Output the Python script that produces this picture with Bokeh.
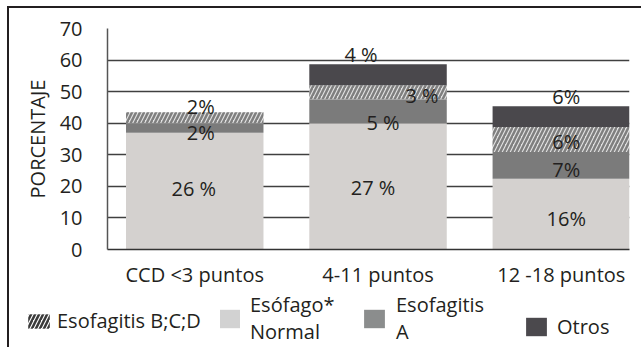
from bokeh.plotting import figure
from bokeh.layouts import column
from bokeh.models import Range1d, FixedTicker, Legend, LegendItem
from bokeh.core.properties import value
from bokeh.embed import file_html
from bokeh.resources import INLINE

# ---- data ----
categories = ["CCD <3 puntos", "4-11 puntos", "12 -18 puntos"]
normal = [37.0, 40.0, 22.4]
esof_a = [3.0, 7.6, 8.5]
esof_bcd = [3.5, 4.4, 7.9]
otros = [0.0, 6.7, 6.6]

lbl_normal = ["26 %", "27 %", "16%"]
lbl_a = ["2%", "5 %", "7%"]
lbl_bcd = ["2%", "3 %", "6%"]
lbl_otros = ["", "4 %", "6%"]

y_ticks = [0, 10, 20, 30, 40, 50, 60, 70]

legend_labels = ["Esofagitis B;C;D", "Esófago*\nNormal", "Esofagitis\nA", "Otros"]

FONT = "Open Sans"
TXT = "#231f20"

xs = [1, 2, 3]

# main chart: content starts at page (9, 8) because of the outer frame
p = figure(width=632, height=282, x_range=Range1d(0.524, 3.372), y_range=Range1d(0, 70),
           output_backend="svg", toolbar_location=None,
           min_border_left=98, min_border_right=12, min_border_top=20, min_border_bottom=40)
p.frame_align = False
p.outline_line_color = None
p.background_fill_color = "white"
p.border_fill_color = "white"

p.xgrid.visible = False
p.ygrid.grid_line_color = "#404040"
p.ygrid.grid_line_width = 1.5

# y axis
p.yaxis.ticker = FixedTicker(ticks=y_ticks)
p.yaxis.axis_line_color = "#555555"
p.yaxis.axis_line_width = 1.5
p.yaxis.major_tick_line_color = None
p.yaxis.minor_tick_line_color = None
p.yaxis.major_label_standoff = 19
p.yaxis.major_label_text_font = FONT
p.yaxis.major_label_text_font_size = "20px"
p.yaxis.major_label_text_color = TXT
p.yaxis.axis_label = "PORCENTAJE"
p.yaxis.axis_label_text_font = FONT
p.yaxis.axis_label_text_font_size = "20px"
p.yaxis.axis_label_text_font_style = "normal"
p.yaxis.axis_label_text_color = TXT
p.yaxis.axis_label_standoff = 6

# x axis
p.xaxis.ticker = FixedTicker(ticks=xs)
p.xaxis.major_label_overrides = {x: c for x, c in zip(xs, categories)}
p.xaxis.axis_line_color = "#333333"
p.xaxis.axis_line_width = 1.5
p.xaxis.major_tick_line_color = None
p.xaxis.minor_tick_line_color = None
p.xaxis.major_label_standoff = 5
p.xaxis.major_label_text_font = FONT
p.xaxis.major_label_text_font_size = "20px"
p.xaxis.major_label_text_color = TXT

# stacked bars
b0 = [0, 0, 0]
t_normal = [b + v for b, v in zip(b0, normal)]
t_a = [b + v for b, v in zip(t_normal, esof_a)]
t_bcd = [b + v for b, v in zip(t_a, esof_bcd)]
t_otros = [b + v for b, v in zip(t_bcd, otros)]

W = 0.75
p.vbar(x=xs, width=W, bottom=b0, top=t_normal, fill_color="#d4d1cf", line_color=None)
p.vbar(x=xs, width=W, bottom=t_normal, top=t_a, fill_color="#7b7b7b", line_color=None)
p.vbar(x=xs, width=W, bottom=t_a, top=t_bcd, fill_color="#e2e2e2", line_color=None,
       hatch_pattern="/", hatch_color="#7f7f7f", hatch_scale=8, hatch_weight=2.5)
p.vbar(x=xs, width=W, bottom=t_bcd, top=t_otros, fill_color="#4a484c", line_color=None)

# value labels
def mids(bot, top):
    return [(b + t) / 2 for b, t in zip(bot, top)]

lx, ly, lt, ox, oy = [], [], [], [], []
groups = [
    (b0, t_normal, lbl_normal, [-1, -5, 5], [-3, 1, 4.5]),
    (t_normal, t_a, lbl_a, [6, 5, 5], [5, 11, 4.5]),
    (t_a, t_bcd, lbl_bcd, [6, 44, 5], [-11, 3, 2.5]),
    (t_bcd, t_otros, lbl_otros, [0, -17, 5], [0, -20, -20.5]),
]
for bot, top, labs, dxs, dys in groups:
    for x, y, t, dx, dy in zip(xs, mids(bot, top), labs, dxs, dys):
        lx.append(x); ly.append(y); lt.append(t); ox.append(dx); oy.append(dy)

p.text(x=lx, y=ly, text=lt, x_offset=ox, y_offset=oy, text_align="center",
       text_baseline="middle", text_font=value(FONT), text_font_size=value("20px"),
       text_color=TXT)

# legend strip below the chart (its frame is the whole canvas)
q = figure(width=632, height=70, x_range=Range1d(0, 1), y_range=Range1d(0, 1),
           x_axis_type=None, y_axis_type=None, output_backend="svg", toolbar_location=None,
           min_border=0)
q.frame_align = False
q.outline_line_color = None
q.xgrid.visible = False
q.ygrid.visible = False
q.background_fill_color = "white"
q.border_fill_color = "white"

# legend-key renderers (one key each, kept off the visible range)
e = dict(x=[-5], top=[0], bottom=[0], width=0.1)
g_bcd = q.vbar(**e, fill_color="white", line_color=None, hatch_pattern="/",
               hatch_color="#3a3a3a", hatch_scale=8, hatch_weight=2.5)
g_normal = q.vbar(**e, fill_color="#d2d2d2", line_color=None)
g_a = q.vbar(**e, fill_color="#8b8d8d", line_color=None)
g_otros = q.vbar(**e, fill_color="#4b494d", line_color=None)

def add_leg(label, r, x, y, gw, gh, standoff, lh):
    leg = Legend(items=[LegendItem(label=label, renderers=[r])], location=(x, y),
                 orientation="horizontal", glyph_width=gw, glyph_height=gh,
                 label_standoff=standoff, padding=0, margin=0, spacing=0,
                 border_line_color=None, background_fill_alpha=0,
                 label_text_font=FONT, label_text_font_size="20px",
                 label_text_color=TXT, label_text_line_height=lh)
    q.add_layout(leg)

add_leg(legend_labels[0], g_bcd, 16, 26, 27, 18, 5, 1.1)
add_leg(legend_labels[1], g_normal, 208, 15, 25, 23, 8, 1.0)
add_leg(legend_labels[2], g_a, 352, 15, 26, 23, 9, 1.0)
add_leg(legend_labels[3], g_otros, 514, 20, 26, 23, 8, 1.1)

layout = column(p, q, spacing=0,
                styles={"border-top": "2px solid #231f20", "border-left": "2px solid #231f20",
                        "margin-left": "7px", "margin-top": "6px"})

open("out.html", "w").write(file_html(layout, INLINE))
